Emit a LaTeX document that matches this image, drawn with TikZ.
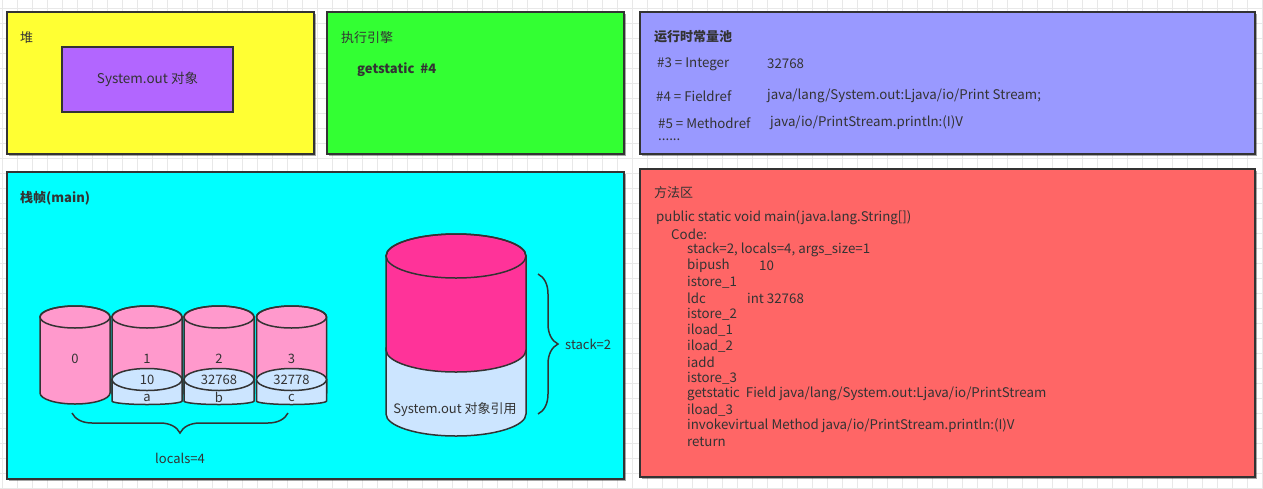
\documentclass[tikz,border=0pt]{standalone}
\usepackage{fontspec}
\setmainfont{Noto Sans CJK SC}
\usetikzlibrary{decorations.pathreplacing,shadows}
\definecolor{gridc}{HTML}{E8E8E8}
\definecolor{edge}{HTML}{333333}
\definecolor{txt}{HTML}{333333}
\definecolor{heapc}{HTML}{FFFF33}
\definecolor{objc}{HTML}{B266FF}
\definecolor{engc}{HTML}{33FF33}
\definecolor{poolc}{HTML}{9999FF}
\definecolor{framec}{HTML}{00FFFF}
\definecolor{methc}{HTML}{FF6666}
\definecolor{pinkc}{HTML}{FF99CC}
\definecolor{hotc}{HTML}{FF3399}
\definecolor{bluec}{HTML}{CCE5FF}
\tikzset{
  area/.style={draw=edge, line width=2pt, rectangle, inner sep=0pt,
    drop shadow={shadow xshift=1.5pt, shadow yshift=-1.5pt, opacity=0.35, fill=black}},
  cyl/.style={draw=edge, line width=1.5pt},
  lbl/.style={text=txt, inner sep=0pt, font=\fontsize{13}{15}\selectfont},
  lw/.style={lbl, anchor=west},
  title/.style={lw, font=\fontsize{13}{15}\selectfont\bfseries},
  code/.style={lw, font=\fontsize{13.3}{15}\selectfont},
  bracec/.style={draw=edge, line width=1.5pt, decorate,
    decoration={brace, amplitude=20pt, aspect=0.5}},
}
\begin{document}
\begin{tikzpicture}[x=1pt, y=-1pt]
\useasboundingbox (0,0) rectangle (1263,488);
% grid
\foreach \i in {0,...,84} \draw[gridc, line width=0.8pt] (2+15*\i,0) -- (2+15*\i,488);
\foreach \j in {0,...,32} \draw[gridc, line width=0.8pt] (0,8+15*\j) -- (1263,8+15*\j);

% panels
\node[area, fill=heapc, minimum width=307pt, minimum height=142pt] (heap) at (160.5,83) {};
\node[area, fill=engc, minimum width=297pt, minimum height=142pt] (engine) at (475.5,83) {};
\node[area, fill=poolc, minimum width=615pt, minimum height=142pt] (pool) at (947.5,83) {};
\node[area, fill=framec, minimum width=617pt, minimum height=307pt] (frame) at (315.5,325.5) {};
\node[area, fill=methc, minimum width=615pt, minimum height=308pt] (method) at (947.5,323) {};
\node[draw=edge, line width=2pt, fill=objc, minimum width=171pt, minimum height=65pt, inner sep=0pt] (obj) at (147.5,79.5) {};

% heap
\node[lw] (heapt) at (20,38) {堆};
\node[lbl, font=\fontsize{13.5}{15}\selectfont] (objt) at (obj.center) {System.out 对象};
% engine
\node[lw] (engt) at (341,38) {执行引擎};
\node[title] (gs) at (357,70) {getstatic\ \ \#4};
% pool
\node[title] (poolt) at (654,37) {运行时常量池};
\node[code] (p3a) at (657,64) {\#3 = Integer};
\node[code] (p3b) at (767,64) {32768};
\node[code] (p4a) at (656,96) {\#4 = Fieldref};
\node[code] (p4b) at (767,96) {java/lang/System.out:Ljava/io/Print Stream;};
\node[code] (p5a) at (658,123) {\#5 = Methodref};
\node[code] (p5b) at (770,123) {java/io/PrintStream.println:(I)V};
\node[code] (pdots) at (658,140) {......};

% frame
\node[title] (framet) at (20,198) {栈帧(main)};

% small cylinders (pink)
\foreach \cx/\nm in {75/0,147/1,219/2,291.5/3}{
  \filldraw[cyl, fill=pinkc] (\cx-35,317) -- (\cx-35,393)
     arc[start angle=180, end angle=360, x radius=35pt, y radius=11pt]
     -- (\cx+35,317) arc[start angle=0, end angle=180, x radius=35pt, y radius=11pt] -- cycle;
  \draw[cyl] (\cx,317) ellipse[x radius=35pt, y radius=11pt];
}
% blue lower parts
\foreach \cx in {147,219,291.5}{
  \filldraw[cyl, fill=bluec] (\cx-35,379.5) -- (\cx-35,401)
     arc[start angle=180, end angle=360, x radius=35pt, y radius=3.5pt]
     -- (\cx+35,379.5) -- cycle;
  \filldraw[cyl, fill=bluec] (\cx,379.5) ellipse[x radius=35pt, y radius=11pt];
}
\node[lbl] (n0) at (75,359) {0};
\node[lbl] (n1) at (147,359) {1};
\node[lbl] (n2) at (219,359) {2};
\node[lbl] (n3) at (291.5,359) {3};
\node[lbl] (v1) at (147,379.5) {10};
\node[lbl] (v2) at (219,380) {32768};
\node[lbl] (v3) at (291.5,380) {32778};
\node[lbl] (a1) at (147,397.5) {a};
\node[lbl] (a2) at (219,397.5) {b};
\node[lbl] (a3) at (291.5,397.5) {c};

% locals brace
\coordinate (lbA) at (72,413);
\coordinate (lbB) at (288,413);
\draw[bracec, decoration={mirror}] (lbA) -- (lbB);
\node[lbl] (loc) at (180,458) {locals=4};

% big stack cylinder
\filldraw[cyl, fill=bluec] (386,348) -- (386,414)
   arc[start angle=180, end angle=360, x radius=70pt, y radius=22pt] -- (526,348) -- cycle;
\filldraw[cyl, fill=hotc] (386,256) -- (386,350)
   arc[start angle=180, end angle=360, x radius=70pt, y radius=22pt]
   -- (526,256) arc[start angle=0, end angle=180, x radius=70pt, y radius=22pt] -- cycle;
\draw[cyl] (456,256) ellipse[x radius=70pt, y radius=22pt];
\node[lbl] (sref) at (455,410) {System.out 对象引用};

% stack brace
\coordinate (sbA) at (538,274);
\coordinate (sbB) at (538,414);
\draw[bracec] (sbA) -- (sbB);
\node[lw] (stk) at (565,344) {stack=2};

% method area
\node[lw] (metht) at (654,193) {方法区};
\node[code] (c1) at (656,218) {public static void main(java.lang.String[])};
\node[code] (c2) at (671,234) {Code:};
\node[code] (c3) at (687,250) {stack=2, locals=4, args\_size=1};
\node[code] (c4) at (687,266) {bipush};
\node[code] (c4b) at (759,266) {10};
\node[code] (c5) at (687,282) {istore\_1};
\node[code] (c6) at (687,298) {ldc};
\node[code] (c6b) at (747,298) {int 32768};
\node[code] (c7) at (687,314) {istore\_2};
\node[code] (c8) at (687,330) {iload\_1};
\node[code] (c9) at (687,346) {iload\_2};
\node[code] (c10) at (687,362) {iadd};
\node[code] (c11) at (687,378) {istore\_3};
\node[code] (c12) at (687,394) {getstatic\ \ Field java/lang/System.out:Ljava/io/PrintStream};
\node[code] (c13) at (687,410) {iload\_3};
\node[code] (c14) at (687,426) {invokevirtual Method java/io/PrintStream.println:(I)V};
\node[code] (c15) at (687,442) {return};
\end{tikzpicture}
\end{document}
